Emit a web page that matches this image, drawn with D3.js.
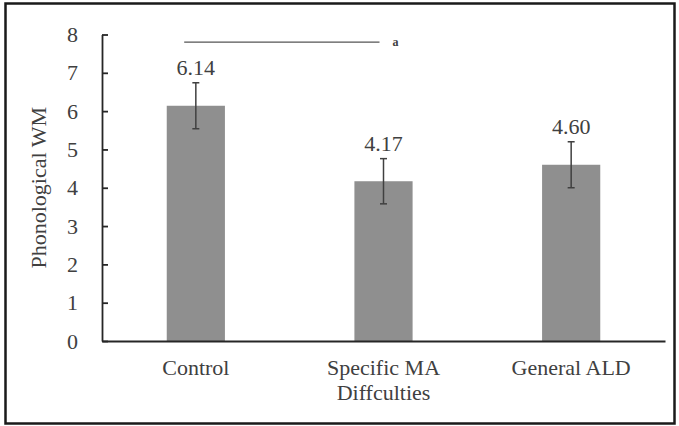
<!DOCTYPE html>
<html>
<head>
<meta charset="utf-8">
<script src="https://cdn.jsdelivr.net/npm/d3@7"></script>
</head>
<body style="margin:0">
<div id="chart"></div>
<script>
// data
const groups = ['Control', 'Specific MA\nDiffculties', 'General ALD'];
const means = [6.14, 4.17, 4.60];
const errors = [0.60, 0.59, 0.60];
const valueLabels = ['6.14', '4.17', '4.60'];
const yTicks = [0, 1, 2, 3, 4, 5, 6, 7, 8];

const barColor = '#8f8f8f';
const axisColor = '#262626';
const errColor = '#404040';
const textColor = '#404040';
const serif = "'Times New Roman'";
const fontSize = '22px';

const W = 679, H = 426;
const margin = { top: 34.5, right: 14, bottom: 85, left: 102 };
const width = W - margin.left - margin.right;
const height = H - margin.top - margin.bottom;

const svg = d3.select('#chart').append('svg')
    .attr('width', W)
    .attr('height', H);

// outer frame
svg.append('rect')
    .attr('x', 5.5).attr('y', 3.5)
    .attr('width', 669).attr('height', 420)
    .attr('fill', 'none')
    .attr('stroke', '#1a1a1a')
    .attr('stroke-width', 2.5);

const g = svg.append('g')
    .attr('transform', 'translate(' + margin.left + ',' + margin.top + ')');

const x = d3.scaleBand()
    .domain(groups)
    .range([0, width])
    .paddingInner(0.69)
    .paddingOuter(0.345);

const y = d3.scaleLinear()
    .domain([0, 8])
    .range([height, 0]);

// bars
g.selectAll('.bar')
    .data(means)
    .enter()
    .append('rect')
    .attr('x', (d, i) => x(groups[i]))
    .attr('y', d => y(d))
    .attr('width', x.bandwidth())
    .attr('height', d => height - y(d))
    .attr('fill', barColor);

// error bars
const cx = i => x(groups[i]) + x.bandwidth() / 2;
const err = g.selectAll('.err')
    .data(means)
    .enter()
    .append('g');
err.append('line')
    .attr('x1', (d, i) => cx(i)).attr('x2', (d, i) => cx(i))
    .attr('y1', (d, i) => y(d + errors[i])).attr('y2', (d, i) => y(d - errors[i]))
    .attr('stroke', errColor).attr('stroke-width', 1.5);
[1, -1].forEach(s => {
    err.append('line')
        .attr('x1', (d, i) => cx(i) - 3.5).attr('x2', (d, i) => cx(i) + 3.5)
        .attr('y1', (d, i) => y(d + s * errors[i])).attr('y2', (d, i) => y(d + s * errors[i]))
        .attr('stroke', errColor).attr('stroke-width', 1.5);
});

// value labels
g.selectAll('.val')
    .data(means)
    .enter()
    .append('text')
    .attr('x', (d, i) => cx(i))
    .attr('y', (d, i) => y(d + errors[i]) - 8)
    .attr('text-anchor', 'middle')
    .style('fill', textColor)
    .style('font-family', serif)
    .style('font-size', fontSize)
    .text((d, i) => valueLabels[i]);

// y axis
const yAxis = g.append('g')
    .call(d3.axisLeft(y).tickValues(yTicks).tickSizeInner(-6).tickSizeOuter(0).tickPadding(24));
yAxis.select('.domain').attr('stroke', axisColor).attr('stroke-width', 1.8);
yAxis.selectAll('.tick line').attr('stroke', axisColor).attr('stroke-width', 1.8);
yAxis.selectAll('.tick text')
    .style('fill', textColor)
    .style('font-family', serif)
    .style('font-size', fontSize);

// x axis
const xAxis = g.append('g')
    .attr('transform', 'translate(0,' + height + ')')
    .call(d3.axisBottom(x).tickSize(0).tickFormat(''));
xAxis.select('.domain').attr('stroke', axisColor).attr('stroke-width', 1.8);

xAxis.selectAll('.tick')
    .append('text')
    .attr('text-anchor', 'middle')
    .style('fill', textColor)
    .style('font-family', serif)
    .style('font-size', fontSize)
    .selectAll('tspan')
    .data(d => d.split('\n'))
    .enter()
    .append('tspan')
    .attr('x', 0)
    .attr('y', (d, i) => 34 + i * 25)
    .text(d => d);

// y title
svg.append('text')
    .attr('transform', 'translate(46,' + (margin.top + height / 2) + ') rotate(-90)')
    .attr('text-anchor', 'middle')
    .style('fill', textColor)
    .style('font-family', serif)
    .style('font-size', fontSize)
    .text('Phonological WM');

// significance line between Control and Specific
g.append('line')
    .attr('x1', x(groups[0]) + x.bandwidth() * 0.3)
    .attr('x2', cx(1) - 4)
    .attr('y1', y(7.8)).attr('y2', y(7.8))
    .attr('stroke', '#555').attr('stroke-width', 1.2);
g.append('text')
    .attr('x', cx(1) + 9)
    .attr('y', y(7.8) + 3.5)
    .style('fill', textColor)
    .style('font-family', serif)
    .style('font-size', '12px')
    .style('font-weight', 'bold')
    .text('a');
</script>
</body>
</html>
